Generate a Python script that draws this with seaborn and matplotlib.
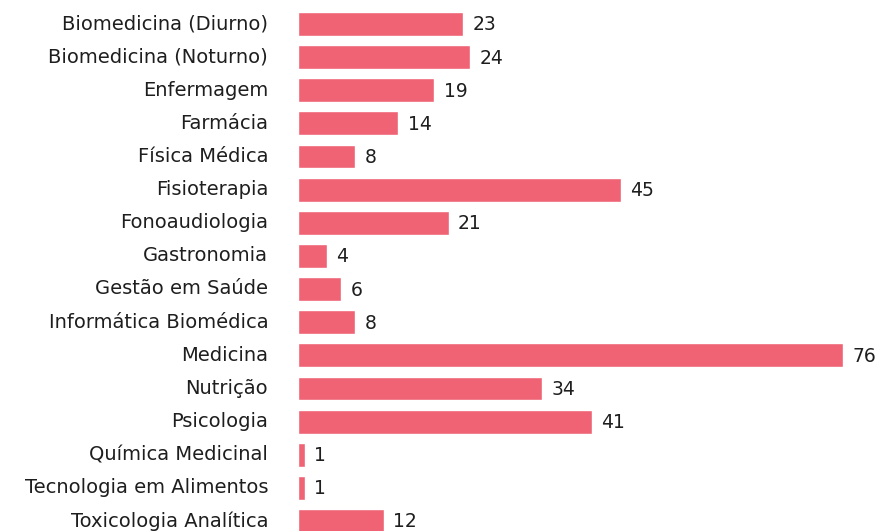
import pandas as pd
import matplotlib.pyplot as plt
import matplotlib.transforms as mtransforms
import seaborn as sns

# ----------- DONNÉES ------------

cursos = [
    "Biomedicina (Diurno)", "Biomedicina (Noturno)", "Enfermagem", "Farmácia",
    "Física Médica", "Fisioterapia", "Fonoaudiologia", "Gastronomia",
    "Gestão em Saúde", "Informática Biomédica", "Medicina", "Nutrição",
    "Psicologia", "Química Medicinal", "Tecnologia em Alimentos",
    "Toxicologia Analítica",
]
valores = [23, 24, 19, 14, 8, 45, 21, 4, 6, 8, 76, 34, 41, 1, 1, 12]

cor_barra = "#F06374"
cor_texto = "#1e1e1e"

df = pd.DataFrame({"curso": cursos, "valor": valores})

# ----------- TRACÉ ------------

sns.set_theme(style="white")
plt.rcParams["font.family"] = ["DejaVu Sans"]

fig = plt.figure(figsize=(8.76, 5.31), dpi=100)
W, H = 876, 531
x0, x1 = 298, 843
c0, c15 = 24, 521
step = (c15 - c0) / 15
top = c0 - step / 2
bot = c15 + step / 2
ax = fig.add_axes([x0 / W, 1 - bot / H, (x1 - x0) / W, (bot - top) / H])

sns.barplot(data=df, y="curso", x="valor", color=cor_barra, saturation=1,
            width=0.72, ax=ax, orient="h")

for i, v in enumerate(valores):
    ax.text(v + 1.3, i + 0.03, str(v), va="center", ha="left", fontsize=13.5,
            color=cor_texto, fontweight="medium")

ax.set_xlim(0, 76)
ax.set_ylim(15.5, -0.5)
ax.set_xlabel("")
ax.set_ylabel("")
ax.set_xticks([])
ax.tick_params(axis="y", length=0, pad=21.5, labelsize=14, labelcolor=cor_texto)

# petit décalage vers le haut pour que le dernier libellé reste visible
decalage = mtransforms.ScaledTranslation(0, 1.5 / 72, fig.dpi_scale_trans)
for lab in ax.get_yticklabels():
    lab.set_fontweight("medium")
    lab.set_transform(lab.get_transform() + decalage)
sns.despine(ax=ax, left=True, bottom=True)

fig.savefig("out.png", dpi=100)
